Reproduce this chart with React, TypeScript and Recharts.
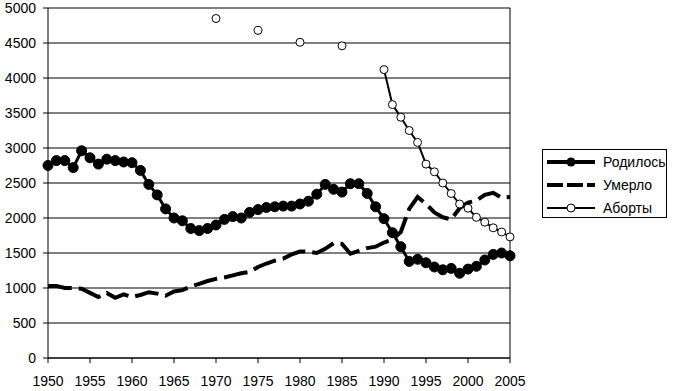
import { LineChart, Line, XAxis, YAxis, CartesianGrid, ReferenceLine } from "recharts";

const years = [
  1950, 1951, 1952, 1953, 1954, 1955, 1956, 1957, 1958, 1959,
  1960, 1961, 1962, 1963, 1964, 1965, 1966, 1967, 1968, 1969,
  1970, 1971, 1972, 1973, 1974, 1975, 1976, 1977, 1978, 1979,
  1980, 1981, 1982, 1983, 1984, 1985, 1986, 1987, 1988, 1989,
  1990, 1991, 1992, 1993, 1994, 1995, 1996, 1997, 1998, 1999,
  2000, 2001, 2002, 2003, 2004, 2005,
];

// Родилось, тыс.
const births = [
  2750, 2820, 2820, 2720, 2960, 2860, 2770, 2840, 2820, 2800,
  2790, 2680, 2480, 2330, 2130, 2000, 1960, 1850, 1820, 1850,
  1900, 1980, 2020, 2000, 2080, 2120, 2150, 2160, 2170, 2170,
  2200, 2240, 2340, 2480, 2410, 2370, 2490, 2490, 2350, 2160,
  1990, 1790, 1590, 1380, 1410, 1360, 1300, 1260, 1280, 1210,
  1270, 1310, 1400, 1480, 1500, 1460,
];

// Умерло, тыс.
const deaths = [
  1030, 1030, 1000, 1000, 990, 930, 870, 930, 860, 910,
  870, 900, 940, 920, 890, 950, 970, 1020, 1060, 1100,
  1130, 1150, 1180, 1210, 1230, 1300, 1350, 1390, 1420, 1480,
  1520, 1520, 1500, 1560, 1640, 1630, 1490, 1530, 1570, 1590,
  1650, 1690, 1800, 2130, 2300, 2200, 2080, 2010, 1980, 2140,
  2220, 2250, 2330, 2360, 2290, 2300,
];

// Аборты, тыс. (данные только за отдельные годы до 1990)
const abortions: (number | null)[] = [
  null, null, null, null, null, null, null, null, null, null,
  null, null, null, null, null, null, null, null, null, null,
  4850, null, null, null, null, 4680, null, null, null, null,
  4510, null, null, null, null, 4460, null, null, null, null,
  4120, 3620, 3440, 3250, 3080, 2770, 2660, 2500, 2350, 2200,
  2140, 2010, 1940, 1860, 1800, 1730,
];

const xTicks = [1950, 1955, 1960, 1965, 1970, 1975, 1980, 1985, 1990, 1995, 2000, 2005];
const yTicks = [0, 500, 1000, 1500, 2000, 2500, 3000, 3500, 4000, 4500, 5000];

const data = years.map((year, i) => ({
  year,
  births: births[i],
  deaths: deaths[i],
  abortions: abortions[i],
}));

const FONT = "'Liberation Sans', Arial, sans-serif";

function LegendBox() {
  const rows = [
    { label: "Родилось", kind: "births" },
    { label: "Умерло", kind: "deaths" },
    { label: "Аборты", kind: "abortions" },
  ];
  return (
    <div
      style={{
        position: "absolute",
        left: 542,
        top: 149,
        width: 123,
        height: 67,
        border: "1px solid #000",
        background: "#fff",
        fontFamily: FONT,
        fontSize: 14,
      }}
    >
      {rows.map((r, i) => (
        <div
          key={r.kind}
          style={{ position: "absolute", left: 0, top: 2 + i * 23, height: 20, display: "flex", alignItems: "center" }}
        >
          <svg width={58} height={20} style={{ marginLeft: 2 }}>
            {r.kind === "births" && (
              <>
                <line x1={2} y1={10} x2={50} y2={10} stroke="#000" strokeWidth={4} />
                <circle cx={26} cy={10} r={4.5} fill="#000" />
              </>
            )}
            {r.kind === "deaths" && (
              <line x1={2} y1={10} x2={50} y2={10} stroke="#000" strokeWidth={4} strokeDasharray="16 4" />
            )}
            {r.kind === "abortions" && (
              <>
                <line x1={2} y1={10} x2={50} y2={10} stroke="#000" strokeWidth={2} />
                <circle cx={26} cy={10} r={4} fill="#fff" stroke="#000" strokeWidth={1} />
              </>
            )}
          </svg>
          <span style={{ color: "#000" }}>{r.label}</span>
        </div>
      ))}
    </div>
  );
}

export default function App() {
  return (
    <div style={{ position: "absolute", left: 0, top: 0, width: 676, height: 391, background: "#fff" }}>
      <LineChart
        width={676}
        height={391}
        data={data}
        margin={{ top: 8, right: 166, bottom: 0, left: 0 }}
      >
        <CartesianGrid vertical={false} stroke="#000" strokeWidth={1} />
        <XAxis
          dataKey="year"
          type="number"
          domain={[1950, 2005]}
          ticks={xTicks}
          interval={0}
          height={33}
          stroke="#000"
          tickSize={5}
          tickMargin={13}
          tick={{ fill: "#000", fontSize: 14, fontFamily: FONT }}
        />
        <YAxis
          width={48}
          domain={[0, 5000]}
          ticks={yTicks}
          interval={0}
          stroke="#000"
          tickSize={5}
          tickMargin={7}
          tick={{ fill: "#000", fontSize: 14, fontFamily: FONT }}
        />
        <ReferenceLine x={2005} stroke="#000" strokeWidth={1} />
        <Line
          dataKey="deaths"
          stroke="#000"
          strokeWidth={4}
          strokeDasharray="24 7"
          dot={false}
          type="linear"
          isAnimationActive={false}
        />
        <Line
          dataKey="births"
          stroke="#000"
          strokeWidth={3}
          dot={{ r: 5, fill: "#000", stroke: "#000", strokeWidth: 1 }}
          type="linear"
          isAnimationActive={false}
        />
        <Line
          dataKey="abortions"
          stroke="#000"
          strokeWidth={2}
          dot={{ r: 4, fill: "#fff", stroke: "#000", strokeWidth: 1 }}
          type="linear"
          isAnimationActive={false}
        />
      </LineChart>
      <LegendBox />
    </div>
  );
}
